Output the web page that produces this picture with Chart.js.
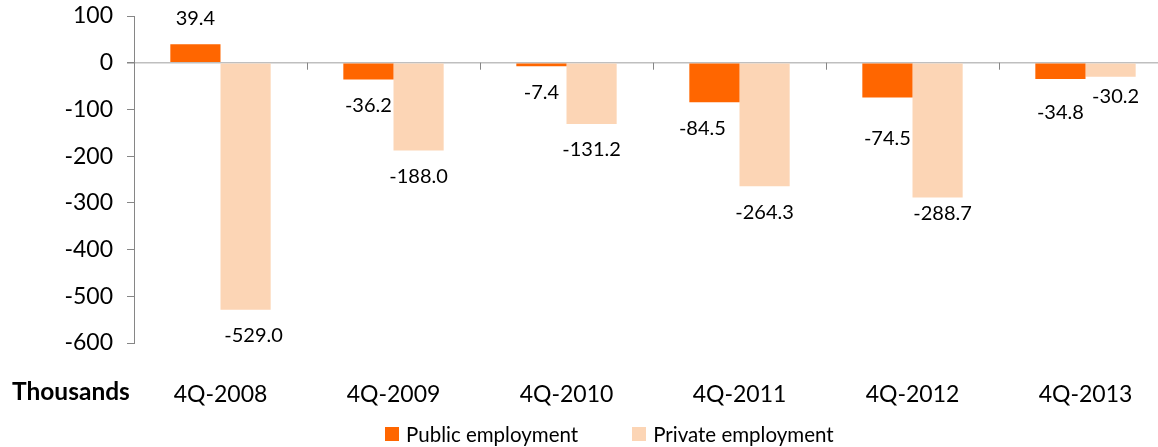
<!DOCTYPE html>
<html>
<head>
<meta charset="utf-8">
<script src="https://cdn.jsdelivr.net/npm/chart.js@4"></script>
<style>
  html, body { margin: 0; padding: 0; background: #fff; overflow: hidden; }
  #wrap { position: absolute; left: 0; top: 0; width: 1172px; height: 447px; }
  #legend {
    position: absolute; left: 385px; top: 422px;
    display: flex; align-items: center;
    font: 20.5px Lato, sans-serif; color: #000;
  }
  #legend .item { display: flex; align-items: center; margin-right: 54px; }
  #legend .box { width: 14px; height: 14px; margin-right: 7px; }
</style>
</head>
<body>
<div id="wrap"><canvas id="employment-chart"></canvas></div>
<div id="legend"></div>

<script>
/* ── Données (milliers) ── */
const categories = ['4Q-2008', '4Q-2009', '4Q-2010', '4Q-2011', '4Q-2012', '4Q-2013'];
const publicEmployment = [39.4, -36.2, -7.4, -84.5, -74.5, -34.8];
const privateEmployment = [-529.0, -188.0, -131.2, -264.3, -288.7, -30.2];
const yTicks = [100, 0, -100, -200, -300, -400, -500, -600];
const unitLabel = 'Thousands';

const COLORS = {
  public: '#FF6600',
  private: '#FCD5B5',
  axis: '#868686',
  zero: '#BFBFBF',
  text: '#000000',
};

const FONT = 'Lato, sans-serif';

/* Étiquettes déplacées à la main dans l'original : [dataset-index] → [dx, dy] */
const LABEL_NUDGE = {
  '0-3': [-12, 0],
  '0-4': [0, 15],
  '0-5': [0, 8],
  '1-0': [8, 0],
  '1-4': [5, -10],
  '1-5': [5, -6],
};

/* ── Étiquettes de valeurs + "Thousands" + petites graduations ── */
const extrasPlugin = {
  id: 'extras',
  afterDatasetsDraw(chart) {
    const { ctx, scales } = chart;
    ctx.save();

    // graduations de catégories sur la ligne zéro
    const x = scales.x, y = scales.y;
    const y0 = y.getPixelForValue(0);
    const half = (x.getPixelForValue(1) - x.getPixelForValue(0)) / 2;
    ctx.strokeStyle = COLORS.axis;
    ctx.lineWidth = 1;
    for (let i = 1; i <= categories.length; i++) {
      const px = Math.round(x.getPixelForValue(i - 1) + half) + 0.5;
      ctx.beginPath();
      ctx.moveTo(px, y0);
      ctx.lineTo(px, y0 + 7);
      ctx.stroke();
    }

    // valeurs
    ctx.font = '20px ' + FONT;
    ctx.fillStyle = COLORS.text;
    ctx.textAlign = 'center';
    ctx.textBaseline = 'middle';
    chart.data.datasets.forEach((ds, di) => {
      chart.getDatasetMeta(di).data.forEach((bar, i) => {
        const v = ds.data[i];
        const [dx, dy] = LABEL_NUDGE[di + '-' + i] || [0, 0];
        const ty = v < 0 ? bar.y + 26 : bar.y - 26;
        ctx.fillText(v.toFixed(1), bar.x + dx, ty + dy);
      });
    });

    // unité
    ctx.font = 'bold 24.5px ' + FONT;
    ctx.textAlign = 'left';
    ctx.fillText(unitLabel, 12, 392);
    ctx.restore();
  }
};

function buildLegend(datasets) {
  const el = document.getElementById('legend');
  el.innerHTML = datasets.map(d =>
    `<div class="item"><span class="box" style="background:${d.backgroundColor}"></span>${d.label}</div>`
  ).join('');
}

const datasets = [
  { label: 'Public employment', data: publicEmployment, backgroundColor: COLORS.public },
  { label: 'Private employment', data: privateEmployment, backgroundColor: COLORS.private },
];

new Chart(document.getElementById('employment-chart'), {
  type: 'bar',
  data: {
    labels: categories,
    datasets: datasets.map(d => ({ ...d, borderWidth: 0, barPercentage: 1, categoryPercentage: 0.58 }))
  },
  options: {
    responsive: true,
    maintainAspectRatio: false,
    animation: false,
    layout: { padding: { top: 16, right: 0, bottom: 0, left: 0 } },
    plugins: {
      legend: { display: false },
      tooltip: { enabled: false }
    },
    scales: {
      x: {
        grid: { display: false },
        border: { display: false },
        ticks: { font: { family: FONT, size: 23 }, color: COLORS.text, padding: 30, maxRotation: 0 },
        afterFit: (s) => { s.height = 104; s.paddingLeft = 0; s.paddingRight = 0; }
      },
      y: {
        min: -600,
        max: 100,
        afterBuildTicks: (s) => { s.ticks = yTicks.map(v => ({ value: v })); },
        grid: {
          color: (c) => c.tick && c.tick.value === 0 ? COLORS.zero : 'rgba(0,0,0,0)',
          lineWidth: (c) => c.tick && c.tick.value === 0 ? 1.5 : 1,
          tickColor: COLORS.axis,
          tickLength: 7,
        },
        border: { color: COLORS.axis, width: 1 },
        ticks: { font: { family: FONT, size: 23 }, color: COLORS.text, padding: 14 },
        afterFit: (s) => { s.width = 134; s.paddingTop = 0; s.paddingBottom = 0; }
      }
    }
  },
  plugins: [extrasPlugin]
});

buildLegend(datasets);
</script>
</body>
</html>
